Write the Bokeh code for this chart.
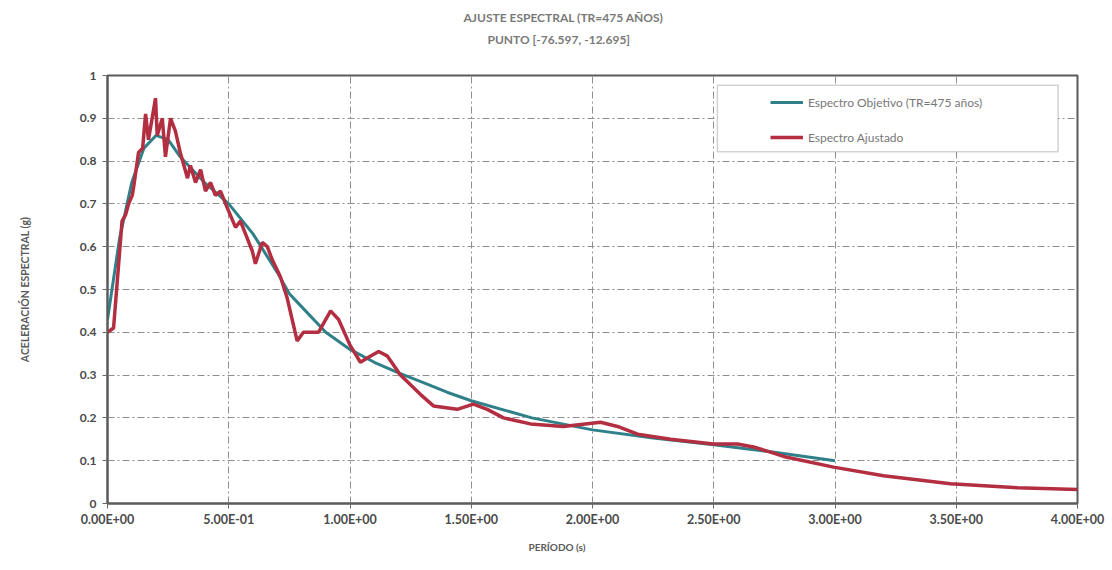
from bokeh.plotting import figure
from bokeh.models import Range1d, FixedTicker, Title, BoxAnnotation, Legend, LegendItem
from bokeh.embed import file_html
from bokeh.resources import INLINE

# ---- data ----
title_line1 = "AJUSTE ESPECTRAL (TR=475 AÑOS)"
title_line2 = "PUNTO [-76.597, -12.695]"
x_axis_title = "PERÍODO (s)"
y_axis_title = "ACELERACIÓN ESPECTRAL (g)"
series_names = ["Espectro Objetivo (TR=475 años)", "Espectro Ajustado"]

T_obj = [0.0, 0.05, 0.1, 0.15, 0.2, 0.25, 0.3, 0.35, 0.4, 0.5, 0.6, 0.7, 0.75, 0.8, 0.9,
         1.0, 1.1, 1.2, 1.3, 1.4, 1.5, 1.75, 2.0, 2.25, 2.5, 2.75, 3.0]
Sa_obj = [0.43, 0.62, 0.75, 0.83, 0.86, 0.85, 0.81, 0.78, 0.75, 0.70, 0.63, 0.54, 0.49, 0.46, 0.40,
          0.36, 0.33, 0.305, 0.283, 0.26, 0.24, 0.20, 0.172, 0.153, 0.137, 0.12, 0.10]

T_adj = [0.0, 0.025, 0.06, 0.075, 0.087, 0.102, 0.108, 0.128, 0.145, 0.157, 0.169, 0.198, 0.205,
         0.226, 0.239, 0.26, 0.28, 0.30, 0.33, 0.342, 0.363, 0.384, 0.404, 0.425, 0.445, 0.466,
         0.487, 0.528, 0.548, 0.569, 0.597, 0.61, 0.638, 0.659, 0.679, 0.713, 0.741, 0.782, 0.808,
         0.87, 0.92, 0.953, 1.0, 1.043, 1.071, 1.118, 1.153, 1.208, 1.29, 1.344, 1.442, 1.509,
         1.566, 1.633, 1.744, 1.88, 2.033, 2.103, 2.186, 2.322, 2.499, 2.598, 2.664, 2.734, 2.788,
         2.994, 3.2, 3.476, 3.753, 4.0]
Sa_adj = [0.40, 0.41, 0.66, 0.675, 0.70, 0.72, 0.74, 0.82, 0.83, 0.91, 0.85, 0.947, 0.86,
          0.90, 0.81, 0.90, 0.87, 0.82, 0.76, 0.79, 0.75, 0.78, 0.73, 0.75, 0.72, 0.73,
          0.70, 0.645, 0.66, 0.63, 0.59, 0.56, 0.61, 0.60, 0.57, 0.53, 0.48, 0.38, 0.40,
          0.40, 0.45, 0.43, 0.37, 0.33, 0.34, 0.355, 0.345, 0.30, 0.255, 0.228, 0.22, 0.232,
          0.22, 0.20, 0.186, 0.18, 0.19, 0.18, 0.162, 0.15, 0.139, 0.139, 0.132, 0.12, 0.11,
          0.085, 0.065, 0.046, 0.037, 0.033]

x_ticks = [0, 0.5, 1, 1.5, 2, 2.5, 3, 3.5, 4]
x_tick_labels = ["0.00E+00", "5.00E-01", "1.00E+00", "1.50E+00", "2.00E+00",
                 "2.50E+00", "3.00E+00", "3.50E+00", "4.00E+00"]
y_ticks = [0, 0.1, 0.2, 0.3, 0.4, 0.5, 0.6, 0.7, 0.8, 0.9, 1]
y_tick_labels = ["0", "0.1", "0.2", "0.3", "0.4", "0.5", "0.6", "0.7", "0.8", "0.9", "1"]

# ---- figure ----
FONT = "Lato"
TITLE_STYLE = dict(text_font=FONT, text_font_style="bold", text_font_size="12px", text_color="#7a7a7a")
p = figure(width=1112, height=570, output_backend="svg", toolbar_location=None,
           x_range=Range1d(0, 4), y_range=Range1d(0, 1),
           min_border_left=107, min_border_right=35, min_border_top=75, min_border_bottom=67)
p.background_fill_color = "white"
p.border_fill_color = "white"
p.outline_line_color = "#5a5a5a"
p.outline_line_width = 2

for ax, ticks, labs in ((p.xaxis[0], x_ticks, x_tick_labels), (p.yaxis[0], y_ticks, y_tick_labels)):
    ax.ticker = FixedTicker(ticks=ticks)
    ax.major_label_overrides = {t: l for t, l in zip(ticks, labs)}
    ax.minor_tick_line_color = None
    ax.major_tick_in = 0
    ax.major_tick_out = 5
    ax.major_tick_line_color = "#6a6a6a"
    ax.axis_line_color = "#5a5a5a"
    ax.axis_line_width = 2
    ax.major_label_text_font = FONT
    ax.major_label_text_font_style = "bold"
    ax.major_label_text_color = "#4a4a4a"

p.xaxis[0].major_label_text_font_size = "12.5px"
p.xaxis[0].major_label_standoff = 3
p.yaxis[0].major_label_text_font_size = "12px"
p.yaxis[0].major_label_standoff = 6
p.yaxis[0].axis_label = y_axis_title
p.yaxis[0].axis_label_text_font = FONT
p.yaxis[0].axis_label_text_font_style = "bold"
p.yaxis[0].axis_label_text_color = "#5a5a5a"
p.yaxis[0].axis_label_text_font_size = "10.5px"
p.yaxis[0].axis_label_standoff = 46

p.xgrid.ticker = FixedTicker(ticks=x_ticks)
p.ygrid.ticker = FixedTicker(ticks=y_ticks)
for g in (p.xgrid, p.ygrid):
    g.grid_line_color = "#8f8f8f"
    g.grid_line_dash = "7 3 2 3"
    g.grid_line_width = 1

r_obj = p.line(T_obj, Sa_obj, line_color="#2f8088", line_width=3)
r_adj = p.line(T_adj, Sa_adj, line_color="#b22e40", line_width=3.5)

# legend box
box = BoxAnnotation(left=2.515, right=3.92, top=0.977, bottom=0.822,
                    fill_color="white", fill_alpha=1.0, line_color="#6a6a6a", line_width=1.5)
p.add_layout(box)

legend = Legend(items=[LegendItem(label=series_names[0], renderers=[r_obj]),
                       LegendItem(label=series_names[1], renderers=[r_adj])],
                location=(663, 356), padding=0, margin=0, spacing=15,
                glyph_width=33, glyph_height=20, label_height=20, label_standoff=5,
                label_text_font=FONT, label_text_font_size="12px", label_text_color="#777777",
                border_line_color=None, background_fill_alpha=0)
p.add_layout(legend)

# titles above (first added sits nearest the frame): spacer, line 2, line 1
spacer = Title(text=" ", standoff=10, **TITLE_STYLE)
t2 = Title(text=title_line2, align="left", offset=380, standoff=4, **TITLE_STYLE)
t1 = Title(text=title_line1, align="left", offset=356, standoff=6, **TITLE_STYLE)
p.add_layout(spacer, "above")
p.add_layout(t2, "above")
p.add_layout(t1, "above")

# x axis title, centred on the chart area like the original
xt = Title(text=x_axis_title, align="left", offset=421, standoff=18,
           text_font=FONT, text_font_style="bold", text_font_size="10px", text_color="#5a5a5a")
p.add_layout(xt, "below")

open("out.html", "w").write(file_html(p, INLINE))
